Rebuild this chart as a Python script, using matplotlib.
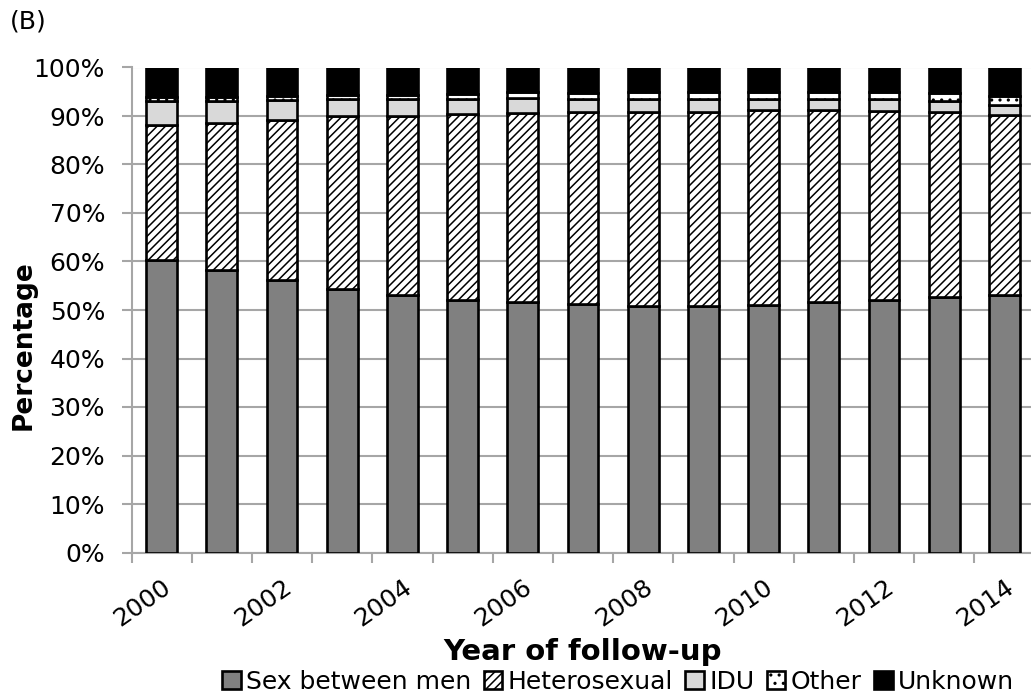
import numpy as np
import matplotlib
matplotlib.use("Agg")
from matplotlib import pyplot as plt
from matplotlib.ticker import PercentFormatter, MultipleLocator, FixedLocator

plt.rcParams['font.family'] = ['DejaVu Sans']
plt.rcParams['hatch.linewidth'] = 1.1

years = list(range(2000, 2015))

# share of people in follow-up by route of transmission (%)
msm = [60.4, 58.3, 56.1, 54.4, 53.0, 52.1, 51.6, 51.3, 50.9, 50.9, 51.1, 51.6, 52.1, 52.6, 53.1]
hetero = [27.7, 30.2, 33.0, 35.5, 37.1, 38.4, 39.0, 39.5, 40.0, 39.9, 40.2, 39.7, 38.9, 38.2, 37.2]
idu = [4.9, 4.5, 4.1, 3.6, 3.4, 3.1, 3.1, 2.7, 2.7, 2.8, 2.3, 2.3, 2.5, 2.2, 2.0]
other = [0.9, 0.9, 0.9, 0.9, 0.9, 1.0, 1.2, 1.2, 1.3, 1.3, 1.3, 1.4, 1.5, 1.8, 1.9]
unknown = [6.1, 6.1, 5.9, 5.6, 5.6, 5.4, 5.1, 5.3, 5.1, 5.1, 5.1, 5.0, 5.0, 5.2, 5.8]

labels = ['Sex between men', 'Heterosexual', 'IDU', 'Other', 'Unknown']
series = [msm, hetero, idu, other, unknown]
colors = ['#808080', 'white', '#d9d9d9', 'white', 'black']
hatches = [None, '////', None, '..', None]

fig = plt.figure(figsize=(10.31, 6.97), dpi=100)
# plot area runs a little past the right edge of the figure
ax = fig.add_axes([131.5 / 1031, 1 - 552.5 / 697, 903 / 1031, (552.5 - 67.5) / 697])

x = np.arange(len(years))
bottom = np.zeros(len(years))
for vals, lab, col, h in zip(series, labels, colors, hatches):
    ax.bar(x, vals, width=0.51, bottom=bottom, color=col, hatch=h,
           edgecolor='black', linewidth=1.9, label=lab, zorder=3)
    bottom += np.array(vals)

ax.set_xlim(-0.5, len(years) - 0.5)
ax.set_ylim(0, 100)
ax.yaxis.set_major_locator(MultipleLocator(10))
ax.yaxis.set_major_formatter(PercentFormatter(decimals=0))
ax.grid(axis='y', color='#a6a6a6', linewidth=1.5, zorder=0)

for s in ['top', 'right']:
    ax.spines[s].set_visible(False)
for s in ['left', 'bottom']:
    ax.spines[s].set_color('#a6a6a6')
    ax.spines[s].set_linewidth(1.5)

ax.tick_params(axis='y', labelsize=18, length=7, width=1.5, color='#a6a6a6', pad=12)
ax.xaxis.set_major_locator(FixedLocator(x[::2]))
ax.set_xticklabels([str(y) for y in years[::2]], rotation=35, ha='right',
                   rotation_mode='anchor', fontsize=18)
ax.tick_params(axis='x', which='major', length=0, pad=16)
ax.xaxis.set_minor_locator(FixedLocator(np.arange(-0.5, len(years), 1)))
ax.tick_params(axis='x', which='minor', length=7, width=1.5, color='#a6a6a6')

ax.set_ylabel('Percentage', fontsize=19, fontweight='bold', va='center')
ax.yaxis.set_label_coords(-0.119, 0.428)
ax.set_xlabel('Year of follow-up', fontsize=21, fontweight='bold', labelpad=5)

fig.text(10 / 1031, 1 - 22 / 697, '(B)', fontsize=18, va='center', ha='left')

fig.legend(loc='center', bbox_to_anchor=(618 / 1031, 1 - 682 / 697), ncol=5,
           frameon=False, fontsize=18, handlelength=0.75, handleheight=0.75,
           handletextpad=0.2, columnspacing=0.5, borderpad=0)

fig.savefig('out.png', dpi=100)
